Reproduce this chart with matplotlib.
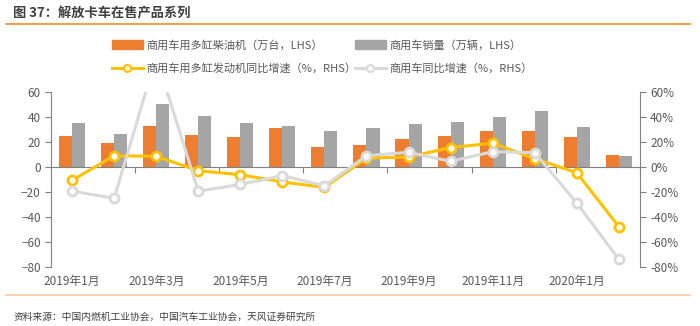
import numpy as np
import matplotlib.pyplot as plt
from matplotlib.lines import Line2D

plt.rcParams['font.family'] = ['Noto Sans CJK SC', 'DejaVu Sans']

# --- Data -------------------------------------------------------------------
months = ['2019年1月', '2019年2月', '2019年3月', '2019年4月', '2019年5月', '2019年6月',
          '2019年7月', '2019年8月', '2019年9月', '2019年10月', '2019年11月', '2019年12月',
          '2020年1月', '2020年2月']
engine_units = [25.0, 18.9, 33.0, 25.6, 24.2, 31.0, 16.0, 17.9, 22.7, 24.6, 28.6, 29.1, 23.8, 9.8]
vehicle_sales = [35.0, 26.4, 50.2, 41.0, 35.5, 33.0, 28.5, 31.0, 34.2, 36.2, 40.3, 44.9, 32.3, 8.7]
engine_yoy = [-10.7, 9.0, 8.5, -3.0, -6.2, -12.0, -16.3, 7.0, 8.0, 15.5, 19.0, 6.6, -4.6, -47.7]
vehicle_yoy = [-19.4, -25.0, 88.0, -19.4, -14.0, -6.9, -15.2, 9.0, 11.7, 4.5, 12.2, 11.4, -28.7, -73.8]

c_orange = '#ED7D31'
c_gray = '#A5A5A5'
c_yellow = '#FFC000'
c_light = '#D9D9D9'
c_text = '#595959'

# --- Figure -----------------------------------------------------------------
fig = plt.figure(figsize=(7, 3.26), dpi=100)
ax = fig.add_axes([0.073, 0.181, 0.841, 0.537])
ax2 = ax.twinx()

x = np.arange(len(months))
w = 0.31
ax.bar(x - w / 2, engine_units, w, color=c_orange, zorder=2)
ax.bar(x + w / 2, vehicle_sales, w, color=c_gray, zorder=2)

ax2.plot(x, engine_yoy, color=c_yellow, lw=2.2, marker='o', ms=6.5,
         mfc='white', mec=c_yellow, mew=2, zorder=3)
ax2.plot(x, vehicle_yoy, color=c_light, lw=2.2, marker='o', ms=6.5,
         mfc='white', mec=c_light, mew=2, zorder=4)

ax.set_xlim(-0.5, len(months) - 0.5)
ax.set_ylim(-80, 60)
ax2.set_ylim(-80, 60)
ax.set_yticks(np.arange(-80, 61, 20))
ax2.set_yticks(np.arange(-80, 61, 20))
ax2.set_yticklabels([f'{v}%' for v in range(-80, 61, 20)])

# zero line axis with boundary ticks
ax.spines['bottom'].set_position(('data', 0))
ax.set_xticks(np.arange(1.5, len(months), 2))
ax.set_xticklabels([])
ax.tick_params(axis='x', length=4, color='#808080', direction='out')
ax.spines['bottom'].set_color('#808080')

sec = ax.secondary_xaxis('bottom')
sec.set_xticks(x[::2])
sec.set_xticklabels(months[::2], fontsize=8.5, color=c_text)
sec.tick_params(length=0, pad=6)
sec.spines['bottom'].set_visible(False)

for a in (ax, ax2):
    a.spines['top'].set_visible(False)
ax.set_zorder(1)
ax2.set_zorder(2)
ax.spines['right'].set_visible(False)
ax2.spines['left'].set_visible(False)
ax2.spines['bottom'].set_visible(False)
ax.spines['left'].set_color('#808080')
ax2.spines['right'].set_color('#808080')
ax.tick_params(axis='y', labelsize=8.5, labelcolor=c_text, color='#808080', length=4)
ax2.tick_params(axis='y', labelsize=8.5, labelcolor=c_text, color='#808080', length=4)
ax.patch.set_visible(False)

# legend
handles = [
    plt.Rectangle((0, 0), 1, 1, color=c_orange),
    Line2D([], [], color=c_yellow, lw=2.2, marker='o', ms=5, mfc='white', mec=c_yellow, mew=1.5),
    plt.Rectangle((0, 0), 1, 1, color=c_gray),
    Line2D([], [], color=c_light, lw=2.2, marker='o', ms=5, mfc='white', mec=c_light, mew=1.5),
]
labels = ['商用车用多缸柴油机（万台，LHS）', '商用车用多缸发动机同比增速（%，RHS）',
          '商用车销量（万辆，LHS）', '商用车同比增速（%，RHS）']
fig.legend(handles, labels, ncol=2, loc='upper left', bbox_to_anchor=(0.145, 0.909),
           frameon=False, fontsize=8, handlelength=2.8, handleheight=0.9,
           columnspacing=-0.1, labelspacing=1.15, handletextpad=0.3, labelcolor=c_text)

# title, rules and source
fig.text(0.019, 0.958, '图 37：解放卡车在售产品系列', fontsize=9.5, fontweight='bold',
         color='#404040', va='center')
fig.add_artist(Line2D([0.009, 0.986], [0.926, 0.926], color='#F28C28', lw=1.2))
fig.add_artist(Line2D([0.009, 0.986], [0.095, 0.095], color='#F8C9A0', lw=1.2))
fig.text(0.019, 0.028, '资料来源：中国内燃机工业协会，中国汽车工业协会，天风证券研究所',
         fontsize=7, color='#404040', va='center')

fig.savefig('out.png', dpi=100)
